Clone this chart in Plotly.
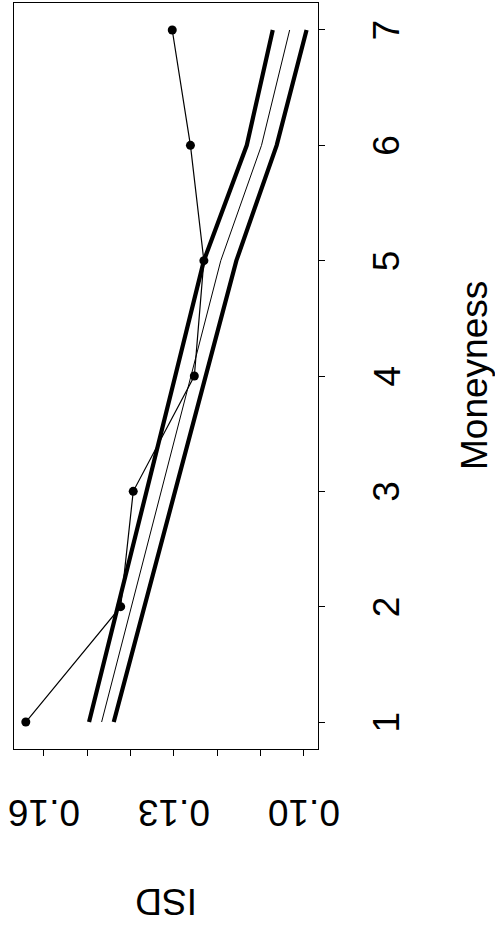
import plotly.graph_objects as go

# Moneyness classes and implied standard deviations
moneyness = [1, 2, 3, 4, 5, 6, 7]
isd_observed = [0.1642, 0.1423, 0.1394, 0.1253, 0.1231, 0.1262, 0.1304]
isd_fit = [0.1467, 0.1398, 0.1329, 0.1261, 0.1192, 0.1098, 0.1033]
isd_upper = [0.1496, 0.1429, 0.1363, 0.1297, 0.1231, 0.1132, 0.1072]
isd_lower = [0.1439, 0.1368, 0.1297, 0.1227, 0.1156, 0.1063, 0.0994]

isd_ticks = [0.10, 0.11, 0.12, 0.13, 0.14, 0.15, 0.16]
isd_labelled = [0.10, 0.13, 0.16]
moneyness_ticks = [1, 2, 3, 4, 5, 6, 7]

FONT = "Liberation Sans, Arial, Helvetica, sans-serif"
W, H = 495, 930
L, R, T, B = 14, 177, 3, 181
PW, PH = W - L - R, H - T - B


def px_x(px):
    return (px - L) / PW


def px_y(py):
    return (H - B - py) / PH


fig = go.Figure()

for band in (isd_upper, isd_lower):
    fig.add_trace(go.Scatter(
        x=band, y=moneyness, mode="lines",
        line=dict(color="black", width=4.2),
        showlegend=False, hoverinfo="skip",
    ))

fig.add_trace(go.Scatter(
    x=isd_fit, y=moneyness, mode="lines",
    line=dict(color="black", width=1),
    showlegend=False, hoverinfo="skip",
))

fig.add_trace(go.Scatter(
    x=isd_observed, y=moneyness, mode="lines+markers",
    line=dict(color="black", width=1.2),
    marker=dict(color="black", size=9),
    showlegend=False,
))

tick_font = dict(family=FONT, size=37, color="black")
annotations = []

# ISD tick labels, turned upside down
for v in isd_labelled:
    annotations.append(dict(
        text=f"{v:.2f}", xref="x", yref="paper", x=v, y=px_y(812.5),
        xanchor="center", yanchor="middle", showarrow=False,
        textangle=180, font=tick_font,
    ))

# Moneyness tick labels, reading bottom to top
for m in moneyness_ticks:
    annotations.append(dict(
        text=str(m), xref="paper", yref="y", x=px_x(386.5), y=m,
        xanchor="center", yanchor="middle", showarrow=False,
        textangle=-90, font=tick_font,
    ))

annotations.append(dict(
    text="Moneyness", xref="paper", yref="paper", x=px_x(474), y=0.5,
    xanchor="center", yanchor="middle", showarrow=False,
    textangle=-90, font=tick_font,
))
annotations.append(dict(
    text="ISD", xref="paper", yref="paper", x=0.5, y=px_y(902),
    xanchor="center", yanchor="middle", showarrow=False,
    textangle=180, font=tick_font,
))

fig.update_layout(
    width=W, height=H,
    margin=dict(l=L, r=R, t=T, b=B),
    paper_bgcolor="white", plot_bgcolor="white",
    font=dict(family=FONT, size=37, color="black"),
    xaxis=dict(
        range=[0.16692, 0.09676],
        tickvals=isd_ticks, showticklabels=False,
        ticks="outside", ticklen=6, tickwidth=1, tickcolor="black",
        showline=True, linecolor="black", linewidth=1, mirror=True,
        showgrid=False, zeroline=False,
    ),
    yaxis=dict(
        range=[0.766, 7.234],
        side="right",
        tickvals=moneyness_ticks, showticklabels=False,
        ticks="outside", ticklen=6, tickwidth=1, tickcolor="black",
        showline=True, linecolor="black", linewidth=1, mirror=True,
        showgrid=False, zeroline=False,
    ),
    annotations=annotations,
)

fig.write_html("out.html")
